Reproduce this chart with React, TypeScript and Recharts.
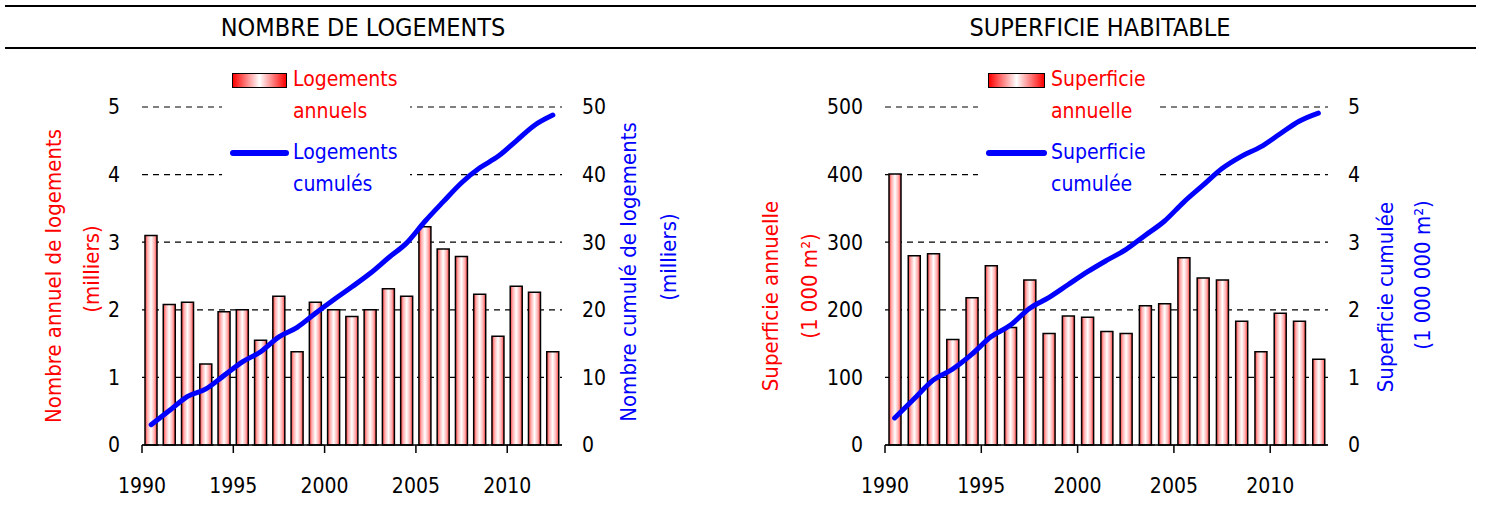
import {
  ComposedChart,
  Bar,
  Line,
  XAxis,
  YAxis,
  CartesianGrid,
  Legend,
} from "recharts";

const YEARS = [
  1990, 1991, 1992, 1993, 1994, 1995, 1996, 1997, 1998, 1999, 2000, 2001,
  2002, 2003, 2004, 2005, 2006, 2007, 2008, 2009, 2010, 2011, 2012,
];
const YEAR_TICKS = [1990, 1995, 2000, 2005, 2010];

// milliers
const LOGEMENTS_ANNUELS = [
  3.1, 2.08, 2.11, 1.2, 1.97, 2.0, 1.55, 2.2, 1.38, 2.11, 2.0, 1.9, 2.0, 2.31,
  2.2, 3.23, 2.9, 2.79, 2.23, 1.61, 2.35, 2.26, 1.38,
];
const LOGEMENTS_CUMULES = [
  3.0, 5.1, 7.2, 8.3, 10.3, 12.3, 13.8, 16.0, 17.4, 19.5, 21.5, 23.4, 25.4,
  27.7, 29.9, 33.1, 36.0, 38.8, 41.0, 42.7, 45.0, 47.3, 48.8,
];
const LOG_LEFT_TICKS = [0, 1, 2, 3, 4, 5];
const LOG_RIGHT_TICKS = [0, 10, 20, 30, 40, 50];

// 1 000 m² / 1 000 000 m²
const SUPERFICIE_ANNUELLE = [
  401, 280, 283, 156, 218, 265, 174, 244, 165, 191, 189, 168, 165, 206, 209,
  277, 247, 244, 183, 138, 195, 183, 127,
];
const SUPERFICIE_CUMULEE = [
  0.4, 0.68, 0.96, 1.12, 1.34, 1.6, 1.77, 2.02, 2.18, 2.37, 2.56, 2.73, 2.89,
  3.1, 3.31, 3.59, 3.84, 4.09, 4.27, 4.41, 4.6, 4.79, 4.91,
];
const SUP_LEFT_TICKS = [0, 100, 200, 300, 400, 500];
const SUP_RIGHT_TICKS = [0, 1, 2, 3, 4, 5];

const FONT = '"DejaVu Sans Condensed", "DejaVu Sans", sans-serif';
const RED = "#ff0000";
const BLUE = "#0000ff";

type Row = { year: number; annual: number; cumul: number };

function toRows(annual: number[], cumul: number[]): Row[] {
  return YEARS.map((year, i) => ({ year, annual: annual[i], cumul: cumul[i] }));
}

// year ticks sit on the category boundaries, label shows the year after it
function YearTick(props: any) {
  const { x, y, payload } = props;
  return (
    <text
      x={x}
      y={y}
      dy="0.71em"
      textAnchor="middle"
      fill="#000"
      fontSize={21}
      fontFamily={FONT}
    >
      {String(payload.value + 0.5)}
    </text>
  );
}

function ValueTick(props: any) {
  const { x, y, payload, textAnchor } = props;
  return (
    <text
      x={x}
      y={y}
      dy="0.355em"
      textAnchor={textAnchor}
      fill="#000"
      fontSize={21}
      fontFamily={FONT}
    >
      {String(payload.value)}
    </text>
  );
}

// two-line rotated axis title
function AxisTitle({
  lines,
  color,
}: {
  lines: { text: string; x: number; y: number }[];
  color: string;
}) {
  return (
    <g>
      {lines.map((l) => (
        <text
          key={l.text}
          x={l.x}
          y={l.y}
          transform={`rotate(-90, ${l.x}, ${l.y})`}
          textAnchor="middle"
          dominantBaseline="central"
          fill={color}
          fontSize={22}
          fontFamily={FONT}
        >
          {l.text}
        </text>
      ))}
    </g>
  );
}

function LegendBox({
  barLabel,
  lineLabel,
  textLeft,
}: {
  barLabel: string[];
  lineLabel: string[];
  textLeft: number;
}) {
  const textStyle = {
    position: "absolute" as const,
    left: textLeft,
    fontSize: 21,
    lineHeight: "31.5px",
    fontFamily: FONT,
    whiteSpace: "nowrap" as const,
  };
  return (
    <div style={{ position: "relative", width: "100%", height: 140, background: "#fff" }}>
      <div
        style={{
          position: "absolute",
          left: 10,
          top: 11,
          width: textLeft - 18,
          height: 13,
          border: "1.5px solid #000",
          background: "linear-gradient(to right, #ff0000, #ffffff 50%, #ff0000)",
        }}
      />
      <div style={{ ...textStyle, top: 2, color: RED }}>
        {barLabel.map((t) => (
          <div key={t}>{t}</div>
        ))}
      </div>
      <div
        style={{
          position: "absolute",
          left: 8,
          top: 88,
          width: textLeft - 12,
          height: 6,
          borderRadius: 3,
          background: BLUE,
        }}
      />
      <div style={{ ...textStyle, top: 75, color: BLUE }}>
        {lineLabel.map((t) => (
          <div key={t}>{t}</div>
        ))}
      </div>
    </div>
  );
}

function Panel({
  id,
  left,
  width,
  leftAxisWidth,
  rightAxisWidth,
  data,
  leftDomain,
  rightDomain,
  leftTicks,
  rightTicks,
  barSize,
  legendLeft,
  legendWidth,
  legendTextLeft,
  barLabel,
  lineLabel,
  leftTitle,
  rightTitle,
}: {
  id: string;
  left: number;
  width: number;
  leftAxisWidth: number;
  rightAxisWidth: number;
  data: Row[];
  leftDomain: [number, number];
  rightDomain: [number, number];
  leftTicks: number[];
  rightTicks: number[];
  barSize: number;
  legendLeft: number;
  legendWidth: number;
  legendTextLeft: number;
  barLabel: string[];
  lineLabel: string[];
  leftTitle: { text: string; x: number; y: number }[];
  rightTitle: { text: string; x: number; y: number }[];
}) {
  return (
    <div style={{ position: "absolute", left, top: 60 }}>
      <ComposedChart
        width={width}
        height={464}
        data={data}
        margin={{ top: 47, right: 0, bottom: 0, left: 0 }}
      >
        <defs>
          <linearGradient id={`grad-${id}`} x1="0" y1="0" x2="1" y2="0">
            <stop offset="0%" stopColor="#ff3a3a" />
            <stop offset="22%" stopColor="#ffb0b0" />
            <stop offset="50%" stopColor="#ffffff" />
            <stop offset="78%" stopColor="#ffb0b0" />
            <stop offset="100%" stopColor="#ff3a3a" />
          </linearGradient>
        </defs>
        <CartesianGrid
          yAxisId="left"
          vertical={false}
          stroke="#000"
          strokeWidth={1.2}
          strokeDasharray="6 5"
        />
        <XAxis
          dataKey="year"
          type="number"
          domain={[YEARS[0] - 0.5, YEARS[YEARS.length - 1] + 0.5]}
          ticks={YEAR_TICKS.map((y) => y - 0.5)}
          interval={0}
          height={79}
          axisLine={{ stroke: "#000", strokeWidth: 1.5 }}
          tickLine={{ stroke: "#000", strokeWidth: 1.5 }}
          tickSize={8}
          tickMargin={25}
          tick={<YearTick />}
        />
        <YAxis
          yAxisId="left"
          width={leftAxisWidth}
          domain={leftDomain}
          ticks={leftTicks}
          axisLine={false}
          tickLine={false}
          tickSize={0}
          tickMargin={22}
          tick={<ValueTick />}
          label={{ content: () => <AxisTitle lines={leftTitle} color={RED} /> }}
        />
        <YAxis
          yAxisId="right"
          orientation="right"
          width={rightAxisWidth}
          domain={rightDomain}
          ticks={rightTicks}
          axisLine={false}
          tickLine={false}
          tickSize={0}
          tickMargin={20}
          tick={<ValueTick />}
          label={{ content: () => <AxisTitle lines={rightTitle} color={BLUE} /> }}
        />
        <Legend
          layout="horizontal"
          verticalAlign="middle"
          align="center"
          wrapperStyle={{ left: legendLeft, top: 2, width: legendWidth }}
          content={() => (
            <LegendBox
              barLabel={barLabel}
              lineLabel={lineLabel}
              textLeft={legendTextLeft}
            />
          )}
        />
        <Bar
          yAxisId="left"
          dataKey="annual"
          barSize={barSize}
          fill={`url(#grad-${id})`}
          stroke="#000"
          strokeWidth={1.5}
          isAnimationActive={false}
        />
        <Line
          yAxisId="right"
          dataKey="cumul"
          type="monotone"
          stroke={BLUE}
          strokeWidth={5}
          strokeLinecap="round"
          dot={false}
          activeDot={false}
          isAnimationActive={false}
        />
      </ComposedChart>
    </div>
  );
}

function Header({ title, center }: { title: string; center: number }) {
  return (
    <div
      style={{
        position: "absolute",
        left: center - 300,
        width: 600,
        top: 13,
        textAlign: "center",
        fontSize: 25,
        fontFamily: FONT,
        color: "#000",
      }}
    >
      {title}
    </div>
  );
}

export default function App() {
  return (
    <div
      style={{
        position: "absolute",
        left: 0,
        top: 0,
        width: 1485,
        height: 524,
        background: "#fff",
        overflow: "hidden",
      }}
    >
      <div style={{ position: "absolute", left: 5, width: 1471, top: 5, height: 2, background: "#000" }} />
      <div style={{ position: "absolute", left: 5, width: 1471, top: 47, height: 2, background: "#000" }} />
      <Header title="NOMBRE DE LOGEMENTS" center={363} />
      <Header title="SUPERFICIE HABITABLE" center={1100} />

      <Panel
        id="log"
        left={0}
        width={742}
        leftAxisWidth={142}
        rightAxisWidth={180}
        data={toRows(LOGEMENTS_ANNUELS, LOGEMENTS_CUMULES)}
        leftDomain={[0, 5]}
        rightDomain={[0, 50]}
        leftTicks={LOG_LEFT_TICKS}
        rightTicks={LOG_RIGHT_TICKS}
        barSize={12}
        legendLeft={222}
        legendWidth={188}
        legendTextLeft={71}
        barLabel={["Logements", "annuels"]}
        lineLabel={["Logements", "cumulés"]}
        leftTitle={[
          { text: "Nombre annuel de logements", x: 53, y: 216 },
          { text: "(milliers)", x: 91, y: 209 },
        ]}
        rightTitle={[
          { text: "Nombre cumulé de logements", x: 628, y: 212 },
          { text: "(milliers)", x: 668, y: 197 },
        ]}
      />
      <Panel
        id="sup"
        left={742}
        width={743}
        leftAxisWidth={143}
        rightAxisWidth={157}
        data={toRows(SUPERFICIE_ANNUELLE, SUPERFICIE_CUMULEE)}
        leftDomain={[0, 500]}
        rightDomain={[0, 5]}
        leftTicks={SUP_LEFT_TICKS}
        rightTicks={SUP_RIGHT_TICKS}
        barSize={12}
        legendLeft={236}
        legendWidth={182}
        legendTextLeft={73}
        barLabel={["Superficie", "annuelle"]}
        lineLabel={["Superficie", "cumulée"]}
        leftTitle={[
          { text: "Superficie annuelle", x: 28, y: 236 },
          { text: "(1 000 m²)", x: 67, y: 226 },
        ]}
        rightTitle={[
          { text: "Superficie cumulée", x: 643, y: 237 },
          { text: "(1 000 000 m²)", x: 680, y: 215 },
        ]}
      />
    </div>
  );
}
